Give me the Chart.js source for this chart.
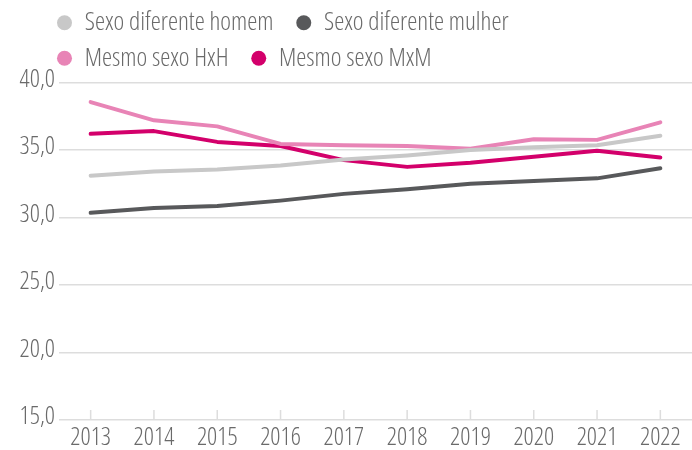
<!DOCTYPE html>
<html>
<head>
<meta charset="utf-8">
<script src="https://cdn.jsdelivr.net/npm/chart.js@4.4.1/dist/chart.umd.min.js"></script>
<style>
  html, body { margin: 0; padding: 0; background: #fff; }
  #wrap { width: 692px; height: 450px; position: relative; }
</style>
</head>
<body>
<div id="wrap"><canvas id="chart"></canvas></div>
<script>
const years = ['2013', '2014', '2015', '2016', '2017', '2018', '2019', '2020', '2021', '2022'];
const yTicks = [15, 20, 25, 30, 35, 40];

const difHomem = [33.1, 33.4, 33.55, 33.85, 34.3, 34.6, 35.0, 35.2, 35.35, 36.05];
const difMulher = [30.35, 30.7, 30.85, 31.25, 31.75, 32.1, 32.5, 32.7, 32.9, 33.65];
const mesmoHxH = [38.55, 37.2, 36.75, 35.45, 35.35, 35.3, 35.1, 35.8, 35.75, 37.05];
const mesmoMxM = [36.2, 36.4, 35.6, 35.3, 34.25, 33.75, 34.05, 34.5, 34.95, 34.45];

const names = ['Sexo diferente homem', 'Sexo diferente mulher', 'Mesmo sexo HxH', 'Mesmo sexo MxM'];
const colors = ['#c8c8c8', '#58595b', '#e884b6', '#d3006b'];

// pick a condensed face: Open Sans if it can stretch, else a narrow family
const probe = document.createElement('canvas').getContext('2d');
function textW(f) { probe.font = f; return probe.measureText('Sexo diferente homem').width; }
const canStretch = textW('300 condensed 24px "Open Sans"') < textW('300 24px "Open Sans"') - 5;
const FAMILY = canStretch ? '"Open Sans", sans-serif' : '"Liberation Sans Narrow", "DejaVu Sans Condensed", "Open Sans", sans-serif';
const WEIGHT = canStretch ? '300 condensed' : 'normal';
const TEXT = '#6a6a6a';

function line(label, data, color) {
    return {
        label: label,
        data: data,
        borderColor: color,
        backgroundColor: color,
        borderWidth: 4,
        borderCapStyle: 'round',
        borderJoinStyle: 'round',
        pointRadius: 0,
        pointHoverRadius: 0,
        tension: 0
    };
}

const legendSpace = {
    id: 'legendSpace',
    beforeInit(chart) {
        const fit = chart.legend.fit;
        chart.legend.fit = function () {
            fit.bind(chart.legend)();
            this.height += 1.5;
        };
    },
    afterLayout(chart) {
        chart.legend.left = 47;
    }
};

const upTicks = {
    id: 'upTicks',
    beforeDatasetsDraw(chart) {
        const ctx = chart.ctx;
        const x = chart.scales.x;
        const bottom = chart.chartArea.bottom;
        ctx.save();
        ctx.strokeStyle = '#dddddd';
        ctx.lineWidth = 1.5;
        years.forEach((y, i) => {
            const px = x.getPixelForTick(i);
            ctx.beginPath();
            ctx.moveTo(px, bottom - 10);
            ctx.lineTo(px, bottom);
            ctx.stroke();
        });
        ctx.restore();
    }
};

new Chart(document.getElementById('chart'), {
    type: 'line',
    data: {
        labels: years,
        datasets: [
            line(names[0], difHomem, colors[0]),
            line(names[1], difMulher, colors[1]),
            line(names[2], mesmoHxH, colors[2]),
            line(names[3], mesmoMxM, colors[3])
        ]
    },
    options: {
        responsive: true,
        maintainAspectRatio: false,
        animation: false,
        layout: { padding: 0 },
        plugins: {
            tooltip: { enabled: false },
            legend: {
                position: 'top',
                align: 'start',
                labels: {
                    color: TEXT,
                    font: { family: FAMILY, size: 25.5, weight: WEIGHT },
                    usePointStyle: true,
                    pointStyle: 'circle',
                    pointStyleWidth: 15,
                    boxHeight: 10.6,
                    padding: 10,
                    generateLabels(chart) {
                        const items = Chart.defaults.plugins.legend.labels.generateLabels(chart);
                        items.forEach(it => {
                            it.text += '\u2002';
                            it.lineWidth = 0;
                            it.fillStyle = it.strokeStyle;
                        });
                        return items;
                    }
                }
            }
        },
        scales: {
            x: {
                offset: true,
                grid: { display: false, drawTicks: false },
                border: { display: false },
                afterFit(scale) {
                    scale.height = 30;
                },
                ticks: {
                    color: TEXT,
                    padding: 5,
                    maxRotation: 0,
                    font: { family: FAMILY, size: 25, weight: WEIGHT, lineHeight: 1 }
                }
            },
            y: {
                min: 15,
                max: 40,
                afterBuildTicks(scale) {
                    scale.ticks = yTicks.map(v => ({ value: v }));
                },
                afterFit(scale) {
                    scale.width = 59;
                },
                grid: { color: '#dddddd', lineWidth: 1.5, drawTicks: false },
                border: { display: false },
                ticks: {
                    color: TEXT,
                    padding: 4,
                    labelOffset: -3,
                    font: { family: FAMILY, size: 25, weight: WEIGHT, lineHeight: 1 },
                    callback: v => v.toFixed(1).replace('.', ',')
                }
            }
        }
    },
    plugins: [legendSpace, upTicks]
});
</script>
</body>
</html>
